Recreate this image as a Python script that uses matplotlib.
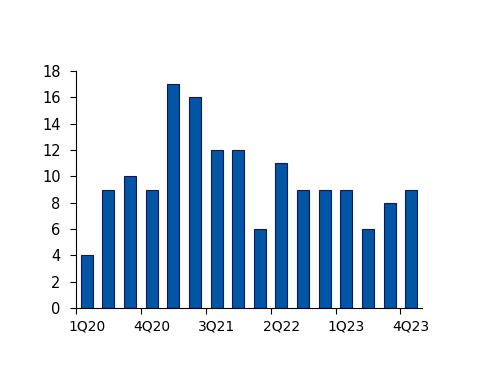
import numpy as np
import matplotlib.pyplot as plt

quarters = ["1Q20", "2Q20", "3Q20", "4Q20", "1Q21", "2Q21", "3Q21", "4Q21",
            "1Q22", "2Q22", "3Q22", "4Q22", "1Q23", "2Q23", "3Q23", "4Q23"]
values = [4, 9, 10, 9, 17, 16, 12, 12, 6, 11, 9, 9, 9, 6, 8, 9]

fig = plt.figure(figsize=(5, 3.86), dpi=100)
ax = fig.add_axes([0.152, 0.202, 0.692, 0.614])

x = np.arange(len(quarters))
ax.bar(x, values, width=0.55, color="#0055A5", edgecolor="#0A1A5C", linewidth=0.8)

ax.set_xlim(-0.5, len(quarters) - 0.5)
ax.set_ylim(0, 18)
ax.set_yticks(range(0, 19, 2))

# ticks at category boundaries, labels at category centres
ax.set_xticks(np.arange(-0.5, len(quarters), 3))
ax.set_xticklabels([])
ax.set_xticks(x[::3], [quarters[i] for i in x[::3]], minor=True)
ax.tick_params(axis="x", which="minor", length=0, pad=8)
ax.tick_params(axis="x", which="major", length=4, direction="out")
ax.tick_params(axis="y", length=4, direction="out", pad=7)
ax.tick_params(labelsize=10.5)

for side in ["top", "right"]:
    ax.spines[side].set_visible(False)

plt.savefig("out.png", dpi=100)
